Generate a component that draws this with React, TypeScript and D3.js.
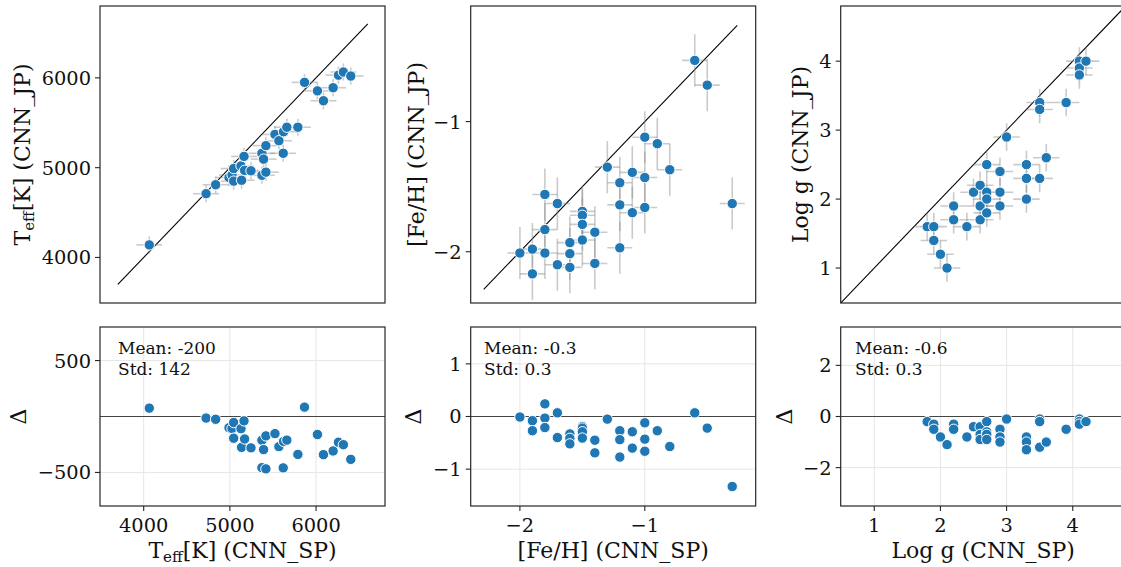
import React from "react";
import * as d3 from "d3";

// ---------- data ----------
const teffSP = [4065, 4724, 4835, 4990, 5025, 5044, 5044, 5129, 5136, 5164, 5171, 5245, 5372, 5372, 5391, 5418, 5418, 5523, 5569, 5619, 5623, 5661, 5789, 5866, 6016, 6086, 6198, 6260, 6317, 6403];
const teffJP = [4140, 4710, 4810, 4890, 4918, 4990, 4850, 5020, 4860, 5125, 4970, 4965, 5160, 4915, 5095, 5245, 4950, 5370, 5300, 5160, 5400, 5450, 5450, 5950, 5855, 5745, 5890, 6030, 6065, 6020];
const teffErrSP = 150;
const teffErrJP = 95;

const fehSP = [-2.0, -1.9, -1.9, -1.8, -1.8, -1.8, -1.7, -1.7, -1.6, -1.6, -1.6, -1.5, -1.5, -1.5, -1.5, -1.4, -1.4, -1.3, -1.2, -1.2, -1.2, -1.1, -1.1, -1.0, -1.0, -1.0, -0.9, -0.8, -0.6, -0.5, -0.3];
const fehJP = [-2.01, -1.98, -2.17, -1.56, -1.83, -2.01, -1.63, -2.1, -1.93, -2.015, -2.12, -1.69, -1.72, -1.79, -1.91, -1.85, -2.09, -1.35, -1.47, -1.64, -1.97, -1.39, -1.7, -1.12, -1.43, -1.66, -1.17, -1.37, -0.53, -0.72, -1.63];
const fehErrSP = 0.1;
const fehErrJP = 0.2;

const loggSP = [1.8, 1.9, 1.9, 2.0, 2.1, 2.2, 2.2, 2.4, 2.5, 2.6, 2.6, 2.6, 2.7, 2.7, 2.7, 2.7, 2.9, 2.9, 2.9, 3.0, 3.3, 3.3, 3.3, 3.5, 3.5, 3.5, 3.6, 3.9, 4.1, 4.1, 4.1, 4.2];
const loggJP = [1.6, 1.6, 1.4, 1.2, 1.0, 1.9, 1.7, 1.6, 2.1, 2.2, 1.9, 1.7, 2.5, 2.1, 2.0, 1.8, 2.4, 2.1, 1.9, 2.9, 2.5, 2.3, 2.0, 3.4, 3.3, 2.3, 2.6, 3.4, 4.0, 3.9, 3.8, 4.0];
const loggErrSP = 0.2;
const loggErrJP = 0.2;

const axisDomains = [[3493, 6800], [-2.394, -0.112], [0.493, 4.8]];
const deltaDomains = [[-800, 800], [-1.7, 1.7], [-3.5, 3.5]];
const identityLines = [[3700, 6600], [-2.29, -0.26], [0.4, 4.9]];
const topYTicks = [[4000, 5000, 6000], [-2, -1], [1, 2, 3, 4]];
const bottomXTicks = [[4000, 5000, 6000], [-2, -1], [1, 2, 3, 4]];
const bottomYTicks = [[-500, 500], [-1, 0, 1], [-2, 0, 2]];
const meanLabels = ["Mean: -200", "Mean: -0.3", "Mean: -0.6"];
const stdLabels = ["Std: 142", "Std: 0.3", "Std: 0.3"];
const qtyNames = ["T_eff[K]", "[Fe/H]", "Log g"];

// ---------- layout ----------
const W = 285;
const colLeft = [100, 470.7, 840.7];
const TY0 = 6, TY1 = 303, BY0 = 327, BY1 = 506;
const ylabX = [30, 424, 808];
const dlabX = [26, 421, 792];
const statX = [118, 484, 855];
const FONT = "DejaVu Serif, serif";
const BLUE = "#1f77b4";
const FRAME = "#262626";

const fmt = (v: number) => String(v).replace("-", "\u2212");

function Label({ name, suffix, x, y, rotate }: { name: string; suffix: string; x: number; y: number; rotate?: boolean }) {
  const tf = rotate ? `rotate(-90 ${x} ${y})` : undefined;
  if (name.startsWith("T_eff")) {
    return (
      <text x={x} y={y} transform={tf} textAnchor="middle" fontSize={22} fontFamily={FONT} fill="#111">
        T<tspan fontSize={15} dy={4}>eff</tspan><tspan dy={-4}>{name.slice(5) + " " + suffix}</tspan>
      </text>
    );
  }
  return (
    <text x={x} y={y} transform={tf} textAnchor="middle" fontSize={22} fontFamily={FONT} fill="#111">
      {name + " " + suffix}
    </text>
  );
}

function Panel({ i, xs, ys, ex, ey }: { i: number; xs: number[]; ys: number[]; ex: number; ey: number }) {
  const left = colLeft[i];
  const right = left + W;
  const x = d3.scaleLinear().domain(axisDomains[i]).range([left, right]);
  const yT = d3.scaleLinear().domain(axisDomains[i]).range([TY1, TY0]);
  const yB = d3.scaleLinear().domain(deltaDomains[i]).range([BY1, BY0]);
  const deltas = xs.map((v, k) => ys[k] - v);
  const clipT = `clipT${i}`;
  const clipB = `clipB${i}`;
  const [l0, l1] = identityLines[i];
  return (
    <g>
      <defs>
        <clipPath id={clipT}><rect x={left} y={TY0} width={W} height={TY1 - TY0} /></clipPath>
        <clipPath id={clipB}><rect x={left} y={BY0} width={W} height={BY1 - BY0} /></clipPath>
      </defs>
      {/* top panel */}
      <g clipPath={`url(#${clipT})`}>
        <line x1={x(l0)} y1={yT(l0)} x2={x(l1)} y2={yT(l1)} stroke="#000" strokeWidth={1.1} />
        {xs.map((v, k) => (
          <g key={"e" + k} stroke="#8a8a8a" strokeOpacity={0.45} strokeWidth={1.6}>
            <line x1={x(v - ex)} x2={x(v + ex)} y1={yT(ys[k])} y2={yT(ys[k])} />
            <line x1={x(v)} x2={x(v)} y1={yT(ys[k] - ey)} y2={yT(ys[k] + ey)} />
          </g>
        ))}
        {xs.map((v, k) => (
          <circle key={"p" + k} cx={x(v)} cy={yT(ys[k])} r={5.2} fill={BLUE} stroke="#fff" strokeWidth={1} />
        ))}
      </g>
      <rect x={left} y={TY0} width={W} height={TY1 - TY0} fill="none" stroke={FRAME} strokeWidth={1.2} />
      {topYTicks[i].map((t) => (
        <g key={"ty" + t}>
          <line x1={left - 5} x2={left} y1={yT(t)} y2={yT(t)} stroke={FRAME} strokeWidth={1.1} />
          <text x={left - 9} y={yT(t)} dy="0.36em" textAnchor="end" fontSize={19.4} fontFamily={FONT} fill="#111">{fmt(t)}</text>
        </g>
      ))}
      <Label name={qtyNames[i]} suffix="(CNN_JP)" x={ylabX[i]} y={(TY0 + TY1) / 2} rotate />

      {/* bottom panel */}
      <g clipPath={`url(#${clipB})`}>
        {bottomXTicks[i].map((t) => (
          <line key={"gx" + t} x1={x(t)} x2={x(t)} y1={BY0} y2={BY1} stroke="#e6e6e6" strokeWidth={1} />
        ))}
        {bottomYTicks[i].map((t) => (
          <line key={"gy" + t} x1={left} x2={right} y1={yB(t)} y2={yB(t)} stroke="#e6e6e6" strokeWidth={1} />
        ))}
        <line x1={left} x2={right} y1={yB(0)} y2={yB(0)} stroke="#444" strokeWidth={1.2} />
        {xs.map((v, k) => (
          <circle key={"d" + k} cx={x(v)} cy={yB(deltas[k])} r={5.2} fill={BLUE} stroke="#fff" strokeWidth={1} />
        ))}
      </g>
      <rect x={left} y={BY0} width={W} height={BY1 - BY0} fill="none" stroke={FRAME} strokeWidth={1.2} />
      {bottomYTicks[i].map((t) => (
        <g key={"by" + t}>
          <line x1={left - 5} x2={left} y1={yB(t)} y2={yB(t)} stroke={FRAME} strokeWidth={1.1} />
          <text x={left - 9} y={yB(t)} dy="0.36em" textAnchor="end" fontSize={19.4} fontFamily={FONT} fill="#111">{fmt(t)}</text>
        </g>
      ))}
      {bottomXTicks[i].map((t) => (
        <g key={"bx" + t}>
          <line x1={x(t)} x2={x(t)} y1={BY1} y2={BY1 + 5} stroke={FRAME} strokeWidth={1.1} />
          <text x={x(t)} y={532} textAnchor="middle" fontSize={19.4} fontFamily={FONT} fill="#111">{fmt(t)}</text>
        </g>
      ))}
      <Label name={qtyNames[i]} suffix="(CNN_SP)" x={(left + right) / 2} y={558} />
      <text x={dlabX[i]} y={(BY0 + BY1) / 2} transform={`rotate(-90 ${dlabX[i]} ${(BY0 + BY1) / 2})`} textAnchor="middle" fontSize={22} fontFamily={FONT} fill="#111">Δ</text>
      <text x={statX[i]} y={354} fontSize={17} fontFamily={FONT} fill="#111">{meanLabels[i]}</text>
      <text x={statX[i]} y={375} fontSize={17} fontFamily={FONT} fill="#111">{stdLabels[i]}</text>
    </g>
  );
}

export default function App() {
  return (
    <svg width={1121} height={567} style={{ position: "absolute", left: 0, top: 0, background: "#fff" }}>
      <rect x={0} y={0} width={1121} height={567} fill="#fff" />
      <Panel i={0} xs={teffSP} ys={teffJP} ex={teffErrSP} ey={teffErrJP} />
      <Panel i={1} xs={fehSP} ys={fehJP} ex={fehErrSP} ey={fehErrJP} />
      <Panel i={2} xs={loggSP} ys={loggJP} ex={loggErrSP} ey={loggErrJP} />
    </svg>
  );
}
